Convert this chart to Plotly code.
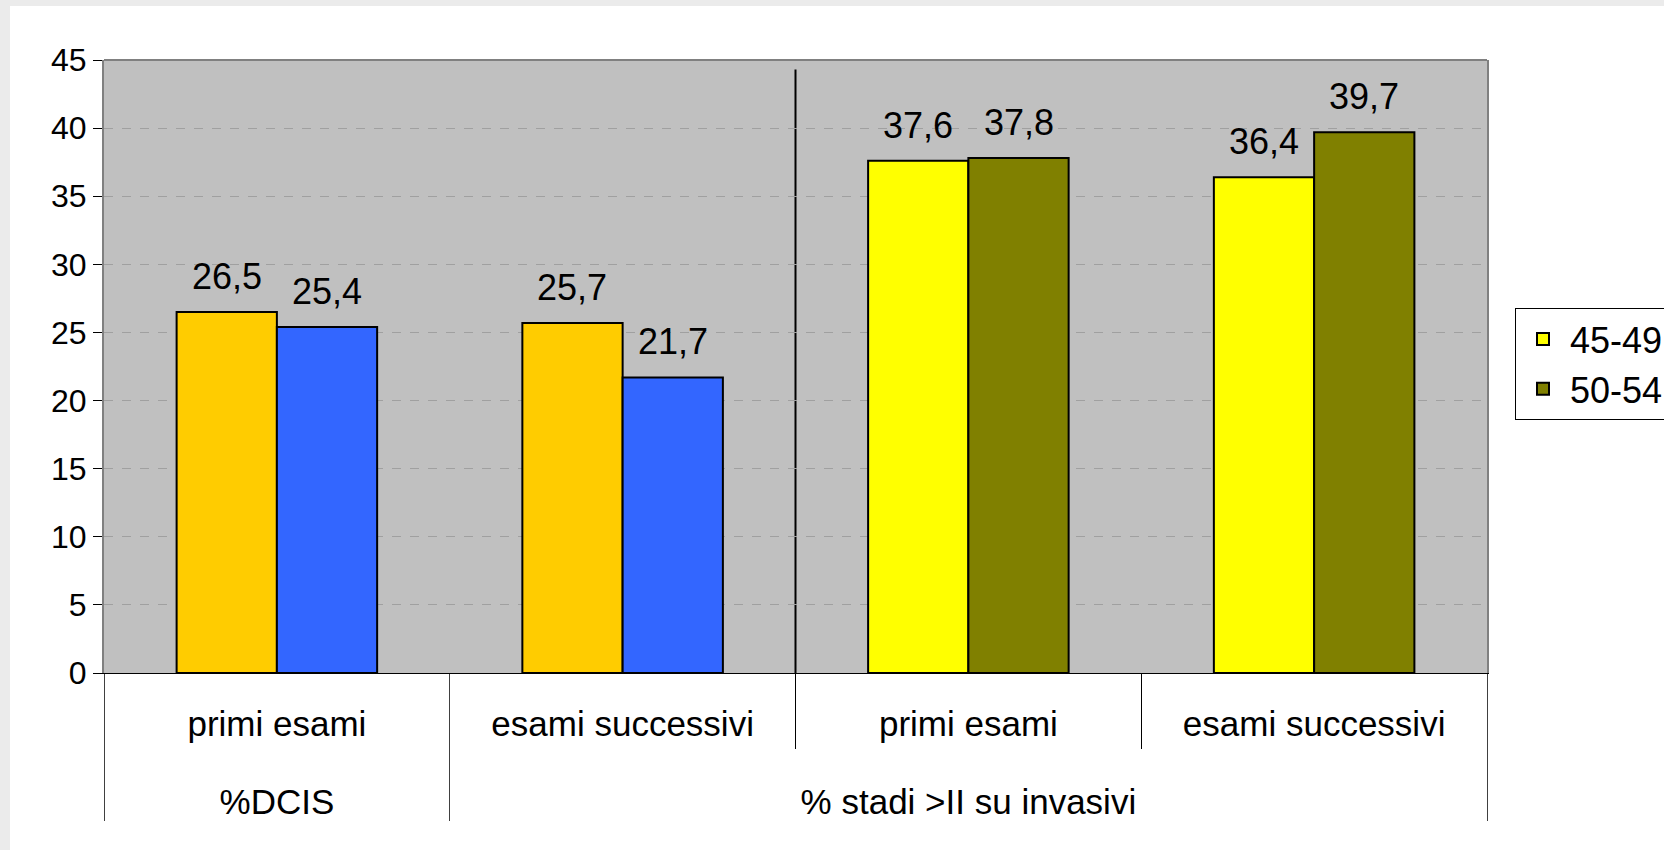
import plotly.graph_objects as go

# ---- data ----
groups = ["%DCIS", "% stadi >II su invasivi", "% stadi >II su invasivi", "% stadi >II su invasivi"]
categories = ["primi esami", "esami successivi", "primi esami", "esami successivi"]
series_names = ["45-49", "50-54"]
values_45_49 = [26.5, 25.7, 37.6, 36.4]
values_50_54 = [25.4, 21.7, 37.8, 39.7]
y_ticks = [0, 5, 10, 15, 20, 25, 30, 35, 40, 45]

# colours: first two categories drawn with DCIS colours, last two with legend colours
dcis_colors = ["#FFCC00", "#3366FF"]
stadi_colors = ["#FFFF00", "#808000"]

FONT = "Liberation Sans, Arial, sans-serif"
W, H = 1664, 850
ML, MR, MT, MB = 104, 177, 60, 177
BARGAP = 0.42

n = len(categories)
idx = list(range(n))

fig = go.Figure()

def add_bar(ids, vals, color, name, showlegend, og):
    fig.add_trace(go.Bar(
        x=ids,
        y=[vals[i] for i in ids],
        name=name,
        showlegend=showlegend,
        offsetgroup=og,
        marker=dict(color=color, line=dict(color="black", width=2)),
        hoverinfo="y",
    ))

add_bar([0, 1], values_45_49, dcis_colors[0], series_names[0], False, "a")
add_bar([0, 1], values_50_54, dcis_colors[1], series_names[1], False, "b")
add_bar([2, 3], values_45_49, stadi_colors[0], series_names[0], True, "a")
add_bar([2, 3], values_50_54, stadi_colors[1], series_names[1], True, "b")

# data labels above each bar
half = (1 - BARGAP) / 4
annotations = []
for s, vals in enumerate([values_45_49, values_50_54]):
    for i, v in enumerate(vals):
        annotations.append(dict(
            x=i + (2 * s - 1) * half, y=v, xref="x", yref="y",
            text=f"{v:.1f}".replace(".", ","), showarrow=False,
            xanchor="center", yanchor="bottom", yshift=13,
            font=dict(family=FONT, size=36, color="black"),
        ))

# group centres and boundaries for the two-level category axis
uniq_groups = []
for g in groups:
    if g not in uniq_groups:
        uniq_groups.append(g)
group_centres = [sum(i for i in idx if groups[i] == g) / groups.count(g) for g in uniq_groups]
group_bounds = [-0.5] + [i + 0.5 for i in range(n - 1) if groups[i] != groups[i + 1]] + [n - 0.5]
inner_bounds = [i + 0.5 for i in range(n - 1) if groups[i] == groups[i + 1]]

# invisible carrier trace so that the group-label axis is drawn
fig.add_trace(go.Scatter(
    x=group_centres, y=[0] * len(group_centres), xaxis="x2", yaxis="y",
    mode="markers", marker=dict(opacity=0), showlegend=False, hoverinfo="skip",
))

pw = W - ML - MR
ph = H - MT - MB

fig.update_layout(
    width=W, height=H,
    margin=dict(l=ML, r=MR, t=MT, b=MB, autoexpand=False),
    paper_bgcolor="white",
    plot_bgcolor="#C0C0C0",
    barmode="group",
    bargap=BARGAP,
    bargroupgap=0,
    font=dict(family=FONT, color="black"),
    showlegend=True,
    annotations=annotations,
    legend=dict(
        x=(1515 - ML) / pw, y=(H - MB - 308) / ph, xanchor="left", yanchor="top",
        bgcolor="white", bordercolor="black", borderwidth=1,
        font=dict(family=FONT, size=36, color="black"),
        traceorder="normal", itemwidth=44, tracegroupgap=4,
    ),
    xaxis=dict(
        range=[-0.5, n - 0.5], tickvals=idx, ticktext=categories,
        showline=True, linecolor="black", linewidth=1,
        ticks="outside", ticklen=20, tickcolor="rgba(0,0,0,0)",
        minor=dict(tickvals=inner_bounds, ticks="outside", ticklen=75,
                   tickcolor="black", tickwidth=1, showgrid=False),
        tickfont=dict(family=FONT, size=35, color="black"),
        showgrid=False, zeroline=False,
    ),
    xaxis2=dict(
        overlaying="x", anchor="y", side="bottom",
        range=[-0.5, n - 0.5], tickvals=group_centres, ticktext=uniq_groups,
        ticks="outside", ticklen=98, tickcolor="rgba(0,0,0,0)",
        minor=dict(tickvals=group_bounds, ticks="outside", ticklen=147,
                   tickcolor="#404040", tickwidth=1, showgrid=False),
        tickfont=dict(family=FONT, size=35, color="black"),
        showgrid=False, zeroline=False, showline=False,
    ),
    yaxis=dict(
        range=[0, 45], tickvals=y_ticks,
        showline=True, linecolor="#808080", linewidth=2, mirror=True,
        ticks="outside", ticklen=9, tickcolor="black", tickwidth=1,
        tickfont=dict(family=FONT, size=32, color="black"),
        showgrid=True, gridcolor="#A0A0A0", gridwidth=1, griddash="dash",
        zeroline=False,
    ),
    shapes=[
        # outer light-grey frame (left and top bands)
        dict(type="rect", xref="paper", yref="paper", x0=-ML / pw, x1=(10 - ML) / pw,
             y0=-MB / ph, y1=(H - MB) / ph, fillcolor="#EBEBEB", line=dict(width=0), layer="below"),
        dict(type="rect", xref="paper", yref="paper", x0=-ML / pw, x1=(W - ML) / pw,
             y0=(H - MB - 6) / ph, y1=(H - MB) / ph, fillcolor="#EBEBEB", line=dict(width=0), layer="below"),
        # top border of plot area
        dict(type="line", xref="paper", yref="paper", x0=0, x1=1, y0=1, y1=1,
             line=dict(color="#808080", width=2)),
        # separator between the two measures
        dict(type="line", xref="x", yref="y", x0=1.5, x1=1.5, y0=0, y1=44.3,
             line=dict(color="black", width=2), layer="below"),
    ],
)

fig.write_html("out.html", config={"displayModeBar": False},
               post_script="document.body.style.margin='0';")
